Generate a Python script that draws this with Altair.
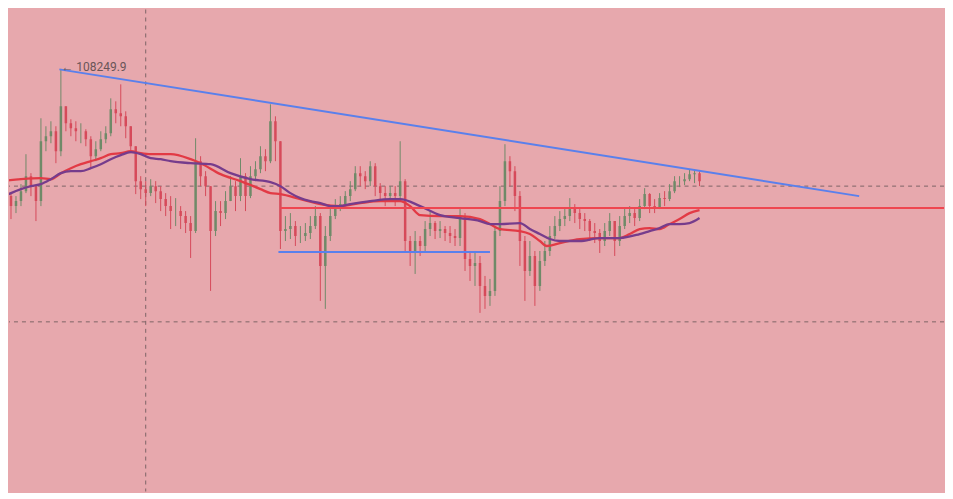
import altair as alt
import pandas as pd

# candle index (5 candles per 25 px of the original screenshot)
closes = [102650, 101900, 101400, 101650, 102150, 102900, 102400, 101650, 104650, 104900,
          105150, 104150, 106400, 105550, 105300, 105150, 105150, 104750, 103900, 104250,
          104750, 105050, 106250, 106050, 105900, 105400, 104400, 102650, 102250, 102050,
          102400, 102150, 101750, 101400, 101150, 101150, 100900, 100550, 100150, 103650,
          102900, 102400, 100150, 101150, 101050, 101650, 102400, 101900, 102900, 101900,
          102900, 103250, 103900, 103650, 105650, 104650, 100150, 100250, 100400, 99900,
          99900, 100050, 100400, 100900, 98400, 99900, 100900, 101400, 101500, 101900,
          102250, 103050, 102900, 102650, 103400, 102400, 102050, 101900, 102050, 101900,
          102650, 99650, 99150, 99650, 99400, 100250, 100550, 100150, 100250, 100050,
          99900, 99800, 100900, 98750, 98400, 98550, 97400, 96900, 97150, 100150,
          101650, 103650, 103150, 101900, 99650, 98150, 98900, 97400, 98650, 99150,
          99900, 100400, 100750, 100900, 101250, 101050, 100750, 100650, 100150, 100050,
          99650, 100150, 100650, 99650, 100400, 100900, 101050, 100800, 101400, 102000,
          101400, 101300, 101800, 101750, 102150, 102650, 102650, 102750, 103000, 103050,
          102650]
highs = [103050, 102750, 102050, 101900, 102500, 104000, 103050, 102400, 105800, 105400,
         105650, 105400, 108249.9, 106050, 105750, 105650, 105550, 105250, 104900, 104650,
         105150, 105400, 106800, 106650, 107500, 106150, 105400, 104400, 102900, 102650,
         102750, 102650, 102400, 102050, 101900, 101800, 101400, 101150, 100900, 104800,
         103900, 103150, 102400, 101650, 101650, 102150, 102900, 102650, 103800, 103050,
         103400, 103650, 104400, 104250, 106500, 105900, 104650, 100900, 101050, 100650,
         100400, 100550, 100900, 101400, 101050, 100400, 101400, 101750, 101900, 102150,
         102650, 103400, 103400, 103150, 103650, 103550, 102550, 102400, 102400, 102400,
         104650, 102750, 99900, 100150, 99900, 100650, 101150, 100650, 100650, 100400,
         100400, 100250, 101250, 101050, 99150, 99150, 98900, 97900, 97750, 100400,
         102400, 104500, 103900, 103400, 102150, 99900, 99650, 99150, 99150, 99650,
         100400, 100900, 101150, 101300, 101800, 101500, 101250, 101050, 100750, 100550,
         100250, 100550, 101050, 100650, 100900, 101300, 101400, 101250, 101750, 102300,
         102050, 101750, 102050, 102150, 102500, 102900, 102900, 103050, 103250, 103250,
         103150]
lows = [102250, 101400, 100750, 101050, 101400, 102050, 101900, 100650, 101400, 104150,
        104550, 103550, 103900, 105150, 104900, 104650, 104550, 104400, 103300, 103650,
        104150, 104550, 104900, 105550, 105400, 104800, 104050, 102000, 101750, 101400,
        101900, 101550, 101150, 100900, 100250, 100400, 100250, 100050, 98800, 100050,
        102400, 101900, 97150, 99900, 100400, 100750, 101650, 101150, 101650, 101150,
        101800, 102650, 103050, 103150, 103550, 103650, 99250, 99650, 99750, 99400,
        99550, 99650, 99750, 100250, 96650, 96250, 99650, 100750, 101150, 101400,
        101650, 102150, 102400, 102250, 102400, 101900, 101650, 101400, 101650, 101400,
        101650, 99150, 98400, 98000, 98900, 99150, 99900, 99750, 99800, 99650,
        99550, 99400, 99400, 98150, 97650, 97400, 96050, 96250, 96400, 96900,
        99900, 101400, 102400, 101150, 98400, 96650, 97900, 96400, 97150, 98400,
        98900, 99750, 100150, 100400, 100650, 100550, 100250, 100150, 99650, 99550,
        99050, 99400, 99900, 98900, 99400, 100250, 100550, 100400, 100650, 101250,
        101050, 101050, 101250, 101400, 101650, 102050, 102350, 102450, 102650, 102550,
        102400]
first_open = 102750

ma_red_t = [0, 4, 8, 10, 12, 14, 16, 18, 20, 22, 24, 26, 28, 30, 32, 34, 38, 40, 44, 48,
            52, 54, 56, 60, 64, 68, 72, 76, 80, 82, 84, 88, 92, 96, 98, 100, 104, 106, 108,
            109.4, 112, 116, 120, 124, 126, 128, 130, 132, 134, 136, 138, 140]
ma_red = [102650, 102750, 102800, 102750, 103050, 103300, 103500, 103650, 103800, 104000,
          104050, 104150, 104050, 104000, 104000, 104000, 103750, 103550, 103000, 102650,
          102250, 102050, 102000, 101750, 101500, 101400, 101550, 101650, 101650, 101400,
          100950, 100900, 100900, 100750, 100500, 100250, 100150, 100000, 99650,
          99400, 99550, 99750, 99800, 99800, 100000, 100250, 100300, 100250, 100500, 100750,
          101050, 101200]
ma_purple_t = [0, 2, 4, 6, 8, 10, 12, 14, 16, 18, 20, 22, 24, 26, 28, 30, 32, 34, 38, 42,
               46, 50, 54, 56, 58, 60, 62, 64, 66, 68, 70, 74, 78, 80, 84, 88, 92, 96, 98,
               100, 104, 106, 108, 110, 112, 116, 120, 124, 128, 130, 132, 134, 136, 138, 140]
ma_purple = [101800, 102050, 102250, 102400, 102500, 102750, 103050, 103150, 103150, 103300,
             103500, 103750, 103950, 104100, 104000, 103800, 103750, 103650, 103550, 103500,
             103050, 102750, 102600, 102400, 102050, 101800, 101650, 101550, 101400, 101400,
             101500, 101650, 101750, 101750, 101400, 100950, 100800, 100650, 100500,
             100500, 100550, 100250, 100000, 99750, 99650, 99650, 99800, 99800, 100000, 100150,
             100300, 100500, 100500, 100550, 100800]

peak_t, peak_price, peak_label = 11.7, 108249.9, "← 108249.9"
trend_t = [11.7, 172]
trend_price = [108249.9, 101900]
support_red = {"t": 56, "t2": 200, "price": 101300}
support_blue = {"t": 55.6, "t2": 98, "price": 99100}
grid_prices = [102400, 95600]
grid_t = [29]

BG = "#e7a8ad"
GREEN = "#6f8a68"
RED = "#d64a5a"

opens = [first_open] + closes[:-1]
rows = []
for i, c in enumerate(closes):
    o = opens[i]
    rows.append({"t": i, "open": o, "close": c,
                 "high": max(highs[i], o, c), "low": min(lows[i], o, c),
                 "dir": "up" if c >= o else "down"})
candles = pd.DataFrame(rows)

xs = alt.Scale(domain=[1.6, 189.0], nice=False, zero=False, padding=0)
ys = alt.Scale(domain=[87100, 111250], nice=False, zero=False, padding=0)
col = alt.Color("dir:N", scale=alt.Scale(domain=["up", "down"], range=[GREEN, RED]), legend=None)

hgrid = alt.Chart(pd.DataFrame({"price": grid_prices})).mark_rule(
    color="#7d6466", strokeDash=[4, 4], strokeWidth=1).encode(
    y=alt.Y("price:Q", scale=ys, axis=None))
vgrid = alt.Chart(pd.DataFrame({"t": grid_t})).mark_rule(
    color="#7d6466", strokeDash=[4, 4], strokeWidth=1).encode(
    x=alt.X("t:Q", scale=xs, axis=None))

wicks = alt.Chart(candles).mark_rule(strokeWidth=1, clip=True).encode(
    x=alt.X("t:Q", scale=xs, axis=None),
    y=alt.Y("low:Q", scale=ys, axis=None), y2="high:Q", color=col)
bodies = alt.Chart(candles).mark_bar(size=2.5, clip=True).encode(
    x=alt.X("t:Q", scale=xs, axis=None),
    y=alt.Y("open:Q", scale=ys, axis=None), y2="close:Q", color=col)

red_ma = alt.Chart(pd.DataFrame({"t": ma_red_t, "price": ma_red})).mark_line(
    color="#e23a45", strokeWidth=2.3, clip=True, interpolate="monotone").encode(
    x=alt.X("t:Q", scale=xs, axis=None), y=alt.Y("price:Q", scale=ys, axis=None))
purple_ma = alt.Chart(pd.DataFrame({"t": ma_purple_t, "price": ma_purple})).mark_line(
    color="#763c8c", strokeWidth=2.3, clip=True, interpolate="monotone").encode(
    x=alt.X("t:Q", scale=xs, axis=None), y=alt.Y("price:Q", scale=ys, axis=None))

red_line = alt.Chart(pd.DataFrame([support_red])).mark_rule(
    color="#ef4650", strokeWidth=2, clip=True).encode(
    x=alt.X("t:Q", scale=xs, axis=None), x2="t2:Q",
    y=alt.Y("price:Q", scale=ys, axis=None))
blue_line = alt.Chart(pd.DataFrame([support_blue])).mark_rule(
    color="#5a80ec", strokeWidth=2, clip=True).encode(
    x=alt.X("t:Q", scale=xs, axis=None), x2="t2:Q",
    y=alt.Y("price:Q", scale=ys, axis=None))

trend = alt.Chart(pd.DataFrame({"t": [trend_t[0]], "t2": [trend_t[1]],
                                "p": [trend_price[0]], "p2": [trend_price[1]]})).mark_rule(
    color="#5a80ec", strokeWidth=2, clip=True).encode(
    x=alt.X("t:Q", scale=xs, axis=None), x2="t2:Q",
    y=alt.Y("p:Q", scale=ys, axis=None), y2="p2:Q")

label = alt.Chart(pd.DataFrame({"t": [peak_t], "price": [peak_price], "txt": [peak_label]})).mark_text(
    align="left", baseline="middle", dx=2, dy=-2, fontSize=12, font="Roboto", color="#6a5558").encode(
    x=alt.X("t:Q", scale=xs, axis=None), y=alt.Y("price:Q", scale=ys, axis=None), text="txt:N")

chart = alt.layer(hgrid, vgrid, wicks, bodies, red_ma, purple_ma, red_line, blue_line, trend, label).properties(
    width=937, height=483, background=BG, padding=0
).configure_view(stroke=None, fill=BG)

chart.save("out.html", embed_options={"renderer": "svg", "actions": False})
